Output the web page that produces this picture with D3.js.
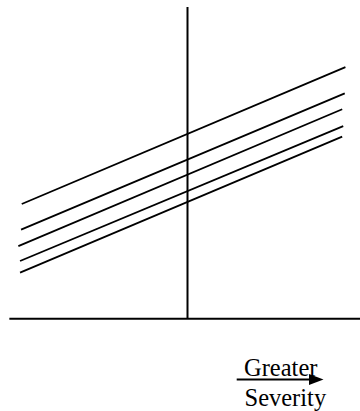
<!DOCTYPE html>
<html>
<head>
<meta charset="utf-8">
<script src="https://cdn.jsdelivr.net/npm/d3@7"></script>
<style>
  html, body { margin: 0; padding: 0; background: #fff; }
  svg { display: block; }
</style>
</head>
<body>
<div id="chart"></div>
<script>
// five parallel lines, given by their two end points (x in axis units, y in axis units)
const lineNames = ["L1", "L2", "L3", "L4", "L5"]
const leftX = [-0.975, -0.979, -0.995, -0.985, -0.985]
const rightX = [0.929, 0.925, 0.910, 0.916, 0.910]
const leftY = [3.68, 2.86, 2.33, 1.85, 1.48]
const rightY = [8.07, 7.23, 6.72, 6.18, 5.84]

// axis extents
const xAxisExtent = [-1.048, 1.015]
const yAxisExtent = [0, 10]

const labelLines = ["Greater", "Severity"]

const width = 360, height = 411

const svg = d3.select("#chart").append("svg")
    .attr("width", width)
    .attr("height", height)

const x = d3.scaleLinear().domain([-1, 1]).range([17.5, 357.5])
const y = d3.scaleLinear().domain([0, 10]).range([318.7, 7])

const lineGen = d3.line()
    .x(d => x(d[0]))
    .y(d => y(d[1]))

const series = lineNames.map((name, i) => ({
    name: name,
    points: [[leftX[i], leftY[i]], [rightX[i], rightY[i]]]
}))

svg.selectAll("path.series")
    .data(series)
    .join("path")
    .attr("class", "series")
    .attr("d", d => lineGen(d.points))
    .attr("fill", "none")
    .attr("stroke", "#000")
    .attr("stroke-width", 1.8)

// vertical axis
svg.append("path")
    .attr("d", lineGen([[0, yAxisExtent[0]], [0, yAxisExtent[1]]]))
    .attr("stroke", "#000")
    .attr("stroke-width", 2)

// horizontal axis
svg.append("path")
    .attr("d", lineGen([[xAxisExtent[0], 0], [xAxisExtent[1], 0]]))
    .attr("stroke", "#000")
    .attr("stroke-width", 2)

// "Greater Severity" label with arrow
const label = svg.append("g")

label.append("text")
    .attr("x", 244)
    .attr("y", 375.5)
    .attr("font-family", "Liberation Serif, Times New Roman, serif")
    .attr("font-size", 24.5)
    .attr("fill", "#000")
    .text(labelLines[0])

label.append("text")
    .attr("x", 244.5)
    .attr("y", 405.5)
    .attr("font-family", "Liberation Serif, Times New Roman, serif")
    .attr("font-size", 24.5)
    .attr("fill", "#000")
    .text(labelLines[1])

label.append("line")
    .attr("x1", 236.7)
    .attr("x2", 312)
    .attr("y1", 379.5)
    .attr("y2", 379.5)
    .attr("stroke", "#000")
    .attr("stroke-width", 2)

label.append("path")
    .attr("d", "M309,374 L323.5,379.5 L309,385 Z")
    .attr("fill", "#000")
</script>
</body>
</html>
